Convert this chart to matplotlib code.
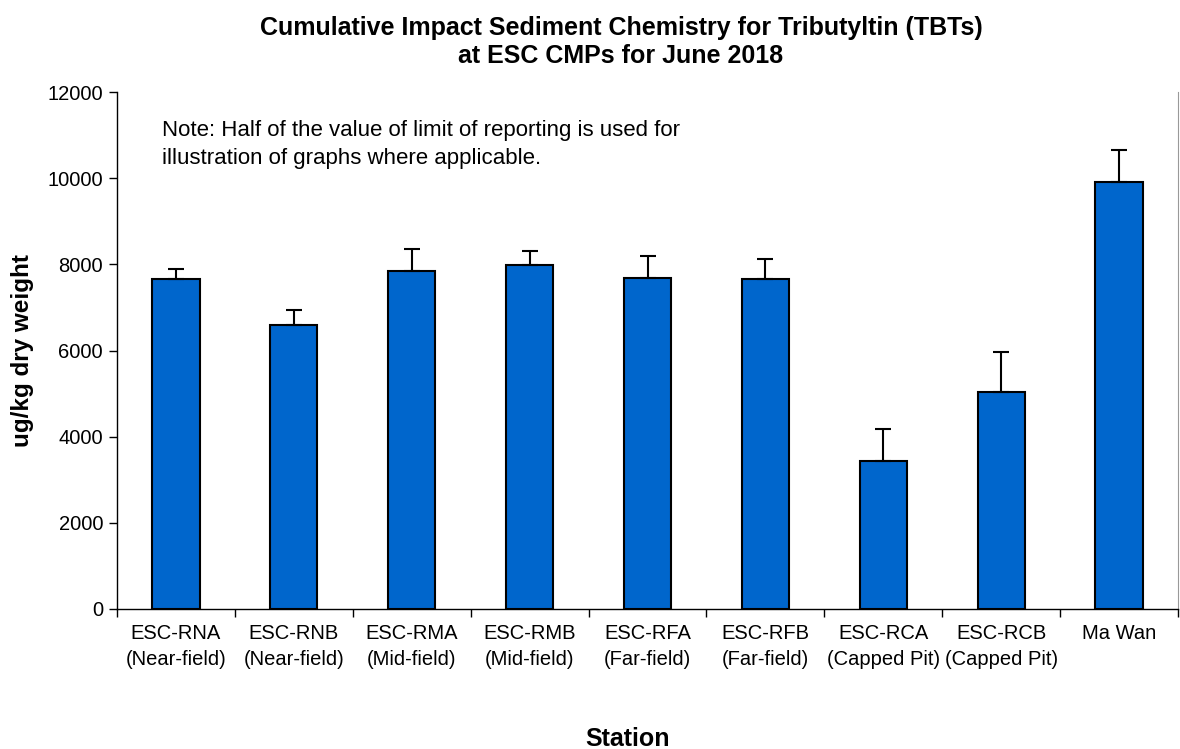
import matplotlib.pyplot as plt
import numpy as np

plt.rcParams['font.family'] = ['Liberation Sans', 'DejaVu Sans']

stations = ['ESC-RNA\n(Near-field)', 'ESC-RNB\n(Near-field)', 'ESC-RMA\n(Mid-field)',
            'ESC-RMB\n(Mid-field)', 'ESC-RFA\n(Far-field)', 'ESC-RFB\n(Far-field)',
            'ESC-RCA\n(Capped Pit)', 'ESC-RCB\n(Capped Pit)', 'Ma Wan']
tbt = [7660, 6600, 7850, 7990, 7680, 7650, 3440, 5040, 9900]
tbt_err = [230, 335, 515, 330, 505, 465, 745, 925, 750]

x = np.arange(len(stations))

fig = plt.figure(figsize=(11.8, 7.49), dpi=100)
ax = fig.add_axes([117/1180, 1 - 609/749, (1178 - 117)/1180, (609 - 92)/749])

ax.bar(x, tbt, width=0.4, color='#0066CC', edgecolor='black', linewidth=1.5, zorder=2)
ax.errorbar(x, tbt, yerr=[np.zeros(len(tbt)), tbt_err], fmt='none', ecolor='black',
            elinewidth=1.5, capsize=6, capthick=1.5, zorder=3)

ax.set_xlim(-0.5, len(stations) - 0.5)
ax.set_ylim(0, 12000)
ax.set_yticks(np.arange(0, 12001, 2000))
ax.tick_params(axis='y', labelsize=14.5, length=6, width=1, direction='out', pad=4)

ax.set_xticks(x)
ax.set_xticklabels(stations, fontsize=14.5, linespacing=1.45)
ax.tick_params(axis='x', which='major', length=0, pad=11)
ax.set_xticks(np.arange(-0.5, len(stations)), minor=True)
ax.tick_params(axis='x', which='minor', length=6, width=1, direction='out')

ax.spines['top'].set_visible(False)
ax.spines['right'].set_color('#999999')
ax.spines['left'].set_linewidth(1)
ax.spines['bottom'].set_linewidth(1)

ax.set_ylabel('ug/kg dry weight', fontsize=17.5, fontweight='bold', labelpad=10)

ax.text(0.042, 0.945, 'Note: Half of the value of limit of reporting is used for\n'
        'illustration of graphs where applicable.', transform=ax.transAxes,
        fontsize=16, va='top', ha='left', linespacing=1.4)

fig.text(621/1180, 1 - 42/749, 'Cumulative Impact Sediment Chemistry for Tributyltin (TBTs)\n'
         'at ESC CMPs for June 2018', ha='center', va='center', fontsize=18,
         fontweight='bold', linespacing=1.25)
fig.text(628/1180, 1 - 746/749, 'Station', ha='center', va='baseline', fontsize=18,
         fontweight='bold')

fig.savefig('out.png', dpi=100)
